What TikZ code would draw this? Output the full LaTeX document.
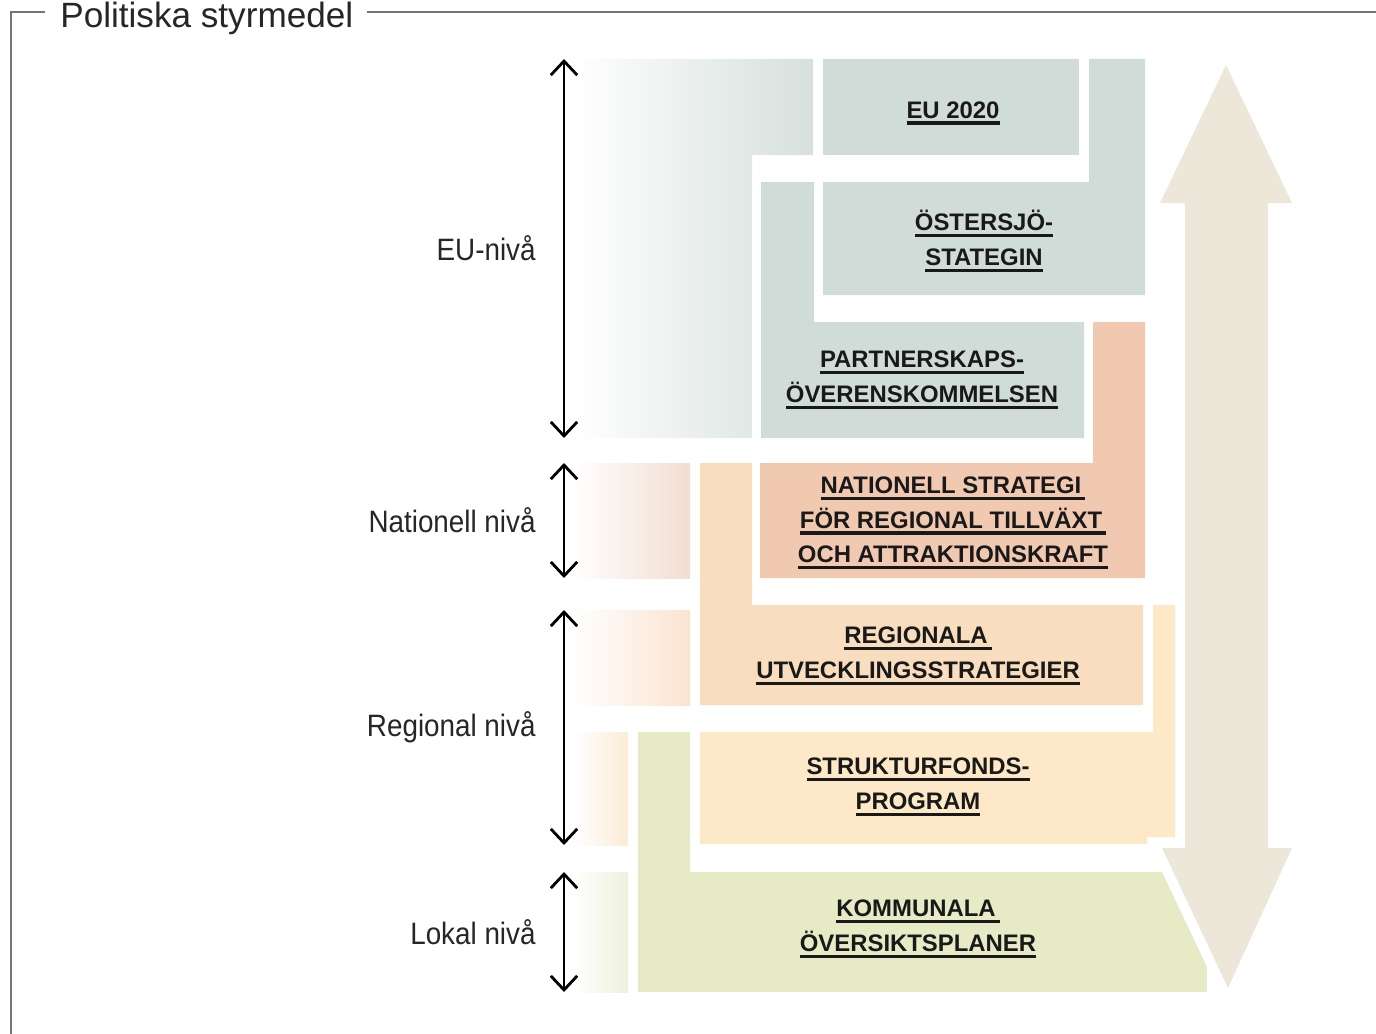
\documentclass[tikz,border=0pt]{standalone}
\usepackage{xcolor}
\usepackage{fontspec}
\setmainfont{Liberation Sans}
\newfontfamily\levelfont[FakeStretch=0.9]{Liberation Sans}
\usepackage{tikz}
\usetikzlibrary{arrows.meta}

\definecolor{framegrey}{HTML}{747474}
\definecolor{eugrey}{HTML}{D0DCD8}
\definecolor{eufade}{HTML}{D6E0DD}
\definecolor{natsalmon}{HTML}{F1C9B1}
\definecolor{natfade}{HTML}{F3DDD2}
\definecolor{regpeach}{HTML}{F8DEBF}
\definecolor{regfade}{HTML}{FAE4D0}
\definecolor{strukyellow}{HTML}{FDE9C7}
\definecolor{strukfade}{HTML}{FCEBD7}
\definecolor{komgreen}{HTML}{E6EBC6}
\definecolor{komfade}{HTML}{EEF1DD}
\definecolor{bigbeige}{HTML}{EDE7DA}

\newcommand{\ulin}[1]{\setbox0=\hbox{#1}\rlap{\raisebox{-3.8pt}{\rule{\wd0}{1.9pt}}}\box0}

\tikzset{
  boxtext/.style={font=\fontsize{13.6}{19.8}\selectfont\bfseries, align=center, inner sep=0pt, text=black!90},
  leveltext/.style={font=\levelfont\fontsize{17.6}{21}\selectfont, text=black!85, inner sep=0pt},
  levelarrow/.style={line width=1.6pt, <->, >={Straight Barb[length=8pt,width=15pt]}},
}

\begin{document}
\begin{tikzpicture}[x=0.02cm, y=-0.02cm]
\useasboundingbox (0,0) rectangle (1376,1034);
\draw[framegrey, line width=1pt] (11,1034) -- (11,12) -- (45,12);
\draw[framegrey, line width=1pt] (367,12) -- (1376,12);
\node[anchor=base west, inner sep=0pt, font=\fontsize{20}{24}\selectfont, text=black!85] (title) at (60,28) {Politiska styrmedel};

% EU-niva
\shade[left color=white, right color=eufade] (573,59) -- (813,59) -- (813,155) -- (752,155) -- (752,438) -- (573,438) -- cycle;
\fill[eugrey] (823,59) rectangle (1079,155);
\fill[eugrey] (823,182) -- (1089,182) -- (1089,59) -- (1145,59) -- (1145,295) -- (823,295) -- cycle;
\fill[eugrey] (761,182) -- (814,182) -- (814,322) -- (1084,322) -- (1084,438) -- (761,438) -- cycle;

% nationell niva
\shade[left color=white, right color=natfade] (573,463) rectangle (690,578);
\fill[natsalmon] (1093,322) -- (1145,322) -- (1145,578) -- (760,578) -- (760,463) -- (1093,463) -- cycle;

% regional niva
\shade[left color=white, right color=regfade] (573,610) rectangle (690,705);
\fill[regpeach] (700,463) -- (752,463) -- (752,605) -- (1143,605) -- (1143,705) -- (700,705) -- cycle;
\shade[left color=white, right color=strukfade] (573,732) rectangle (628,845);
\fill[strukyellow] (700,732) -- (1153,732) -- (1153,605) -- (1175,605) -- (1175,837) -- (1147,837) -- (1147,844) -- (700,844) -- cycle;

% lokal niva
\shade[left color=white, right color=komfade] (573,872) rectangle (628,992);
\fill[komgreen] (638,732) -- (690,732) -- (690,872) -- (1162,872) -- (1207,967) -- (1207,992) -- (638,992) -- cycle;

\fill[bigbeige] (1226,65) -- (1292,203) -- (1268,203) -- (1268,848) -- (1292,848) -- (1228,988) -- (1162,848) -- (1185,848) -- (1185,203) -- (1160,203) -- cycle;

\node[boxtext] (eu2020) at (953,113) {\ulin{EU 2020}};
\node[boxtext] (ostersjo) at (984,241) {\ulin{ÖSTERSJÖ-}\\\ulin{STATEGIN}};
\node[boxtext] (partner) at (922,380) {\ulin{PARTNERSKAPS-}\\\ulin{ÖVERENSKOMMELSEN}};
\node[boxtext] (nationell) at (953,523) {\ulin{NATIONELL STRATEGI\,}\\\ulin{FÖR REGIONAL TILLVÄXT\,}\\\ulin{OCH ATTRAKTIONSKRAFT}};
\node[boxtext] (regutv) at (918,656) {\ulin{REGIONALA\,}\\\ulin{UTVECKLINGSSTRATEGIER}};
\node[boxtext] (struktur) at (918,787) {\ulin{STRUKTURFONDS-}\\\ulin{PROGRAM}};
\node[boxtext] (kommunala) at (918,929) {\ulin{KOMMUNALA\,}\\\ulin{ÖVERSIKTSPLANER}};

\coordinate (eutop) at (564,59);
\coordinate (eubot) at (564,438);
\coordinate (nattop) at (564,463);
\coordinate (natbot) at (564,578);
\coordinate (regtop) at (564,610);
\coordinate (regbot) at (564,845);
\coordinate (loktop) at (564,872);
\coordinate (lokbot) at (564,992);
\draw[levelarrow] (eutop) -- (eubot) node[midway, left=0.54cm, leveltext] (eulbl) {EU-nivå};
\draw[levelarrow] (nattop) -- (natbot) node[midway, left=0.54cm, leveltext] (natlbl) {Nationell nivå};
\draw[levelarrow] (regtop) -- (regbot) node[midway, left=0.54cm, leveltext] (reglbl) {Regional nivå};
\draw[levelarrow] (loktop) -- (lokbot) node[midway, left=0.54cm, leveltext] (loklbl) {Lokal nivå};
\end{tikzpicture}
\end{document}
